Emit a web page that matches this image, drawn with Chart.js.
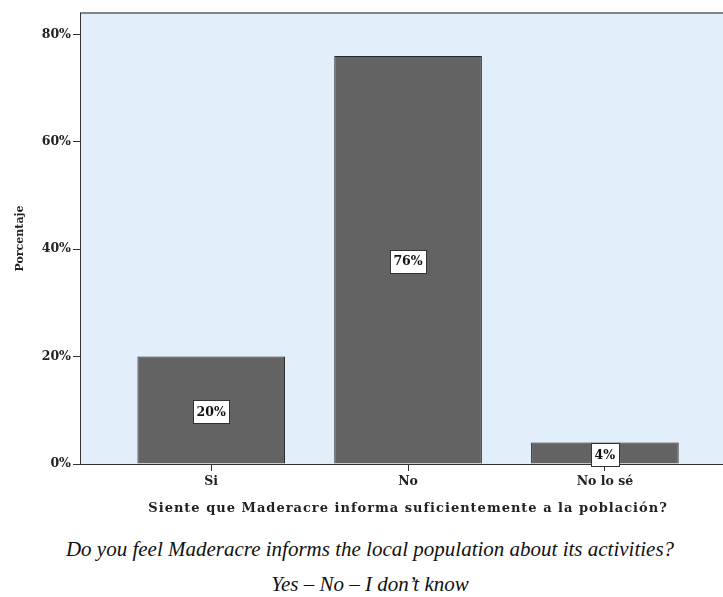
<!DOCTYPE html>
<html>
<head>
<meta charset="utf-8">
<script src="https://cdn.jsdelivr.net/npm/chart.js@4"></script>
<style>
  html, body { margin: 0; padding: 0; background: #fff; overflow: hidden; }
  #wrap { position: relative; width: 723px; height: 597px; }
  #caption {
    position: absolute; left: 17px; width: 706px; top: 532px;
    text-align: center; color: #111;
    font-family: "Liberation Serif", serif; font-style: italic;
    font-size: 21px; line-height: 35px;
  }
</style>
</head>
<body>
<div id="wrap">
  <canvas id="chart" width="723" height="530"></canvas>
  <div id="caption">Do you feel Maderacre informs the local population about its activities?<br>Yes – No – I don’t know</div>
</div>
<script>
const categories = ['Si', 'No', 'No lo sé'];
const percentages = [20, 76, 4];
const yTicks = [0, 20, 40, 60, 80];
const xTitle = 'Siente que Maderacre informa suficientemente a la población?';
const yTitle = 'Porcentaje';

const serif = '"DejaVu Serif", serif';
const ink = '#222';

// light blue plot area with a grey top edge
const plotBackground = {
  id: 'plotBackground',
  beforeDraw(chart) {
    const { ctx, chartArea: a } = chart;
    ctx.save();
    ctx.fillStyle = '#e2eefa';
    ctx.fillRect(a.left, a.top, a.right - a.left, a.bottom - a.top);
    ctx.strokeStyle = '#858585';
    ctx.lineWidth = 2;
    ctx.beginPath();
    ctx.moveTo(a.left, a.top);
    ctx.lineTo(a.right, a.top);
    ctx.stroke();
    ctx.restore();
  }
};

// x axis title, centred under the middle category
const axisTitle = {
  id: 'axisTitle',
  afterDraw(chart) {
    const { ctx } = chart;
    const x = chart.scales.x;
    ctx.save();
    ctx.font = 'bold 13px ' + serif;
    ctx.letterSpacing = '1px';
    ctx.fillStyle = ink;
    ctx.textAlign = 'center';
    ctx.textBaseline = 'middle';
    ctx.fillText(xTitle, x.getPixelForValue(2), x.bottom - 21);
    ctx.restore();
  }
};

// boxed value labels in the middle of each bar
const barLabels = {
  id: 'barLabels',
  afterDraw(chart) {
    const { ctx } = chart;
    const meta = chart.getDatasetMeta(0);
    ctx.save();
    ctx.font = 'bold 12.5px ' + serif;
    ctx.textAlign = 'center';
    ctx.textBaseline = 'middle';
    meta.data.forEach((bar, i) => {
      const text = percentages[i] + '%';
      const w = Math.round(ctx.measureText(text).width + 7);
      const h = 23;
      const cx = bar.x;
      const cy = (bar.y + bar.base) / 2 + 1.5;
      const left = Math.round(cx - w / 2);
      const top = Math.round(cy - h / 2);
      ctx.fillStyle = '#fff';
      ctx.fillRect(left, top, w, h);
      ctx.strokeStyle = '#333';
      ctx.lineWidth = 1;
      ctx.strokeRect(left + 0.5, top + 0.5, w, h);
      ctx.fillStyle = '#111';
      ctx.fillText(text, cx, cy + 1);
    });
    ctx.restore();
  }
};

new Chart(document.getElementById('chart'), {
  type: 'bar',
  data: {
    datasets: [{
      data: categories.map((c, i) => ({ x: i + 1, y: percentages[i] })),
      backgroundColor: '#636363',
      borderColor: '#262626',
      borderWidth: 1,
      barPercentage: 0.75,
      categoryPercentage: 1
    }]
  },
  options: {
    responsive: false,
    animation: false,
    layout: { padding: { top: 13, left: 0, right: 0, bottom: 0 } },
    plugins: { legend: { display: false }, tooltip: { enabled: false } },
    scales: {
      x: {
        type: 'linear',
        min: 1 / 3,
        max: 3.6,
        offset: false,
        afterBuildTicks: s => { s.ticks = categories.map((c, i) => ({ value: i + 1 })); },
        afterFit: s => { s.height = 66; },
        grid: { offset: false, drawOnChartArea: false, drawTicks: true, tickLength: 7, tickColor: '#333' },
        border: { display: true, color: '#333', width: 1 },
        ticks: {
          padding: 3,
          color: ink,
          font: { family: serif, size: 12.5, weight: 'bold' },
          callback: v => categories[v - 1]
        }
      },
      y: {
        min: 0,
        max: 84,
        afterBuildTicks: s => { s.ticks = yTicks.map(v => ({ value: v })); },
        afterFit: s => { s.width = 80; },
        grid: { drawOnChartArea: false, drawTicks: true, tickLength: 7, tickColor: '#333' },
        border: { display: true, color: '#333', width: 1 },
        ticks: {
          padding: 2,
          color: ink,
          font: { family: serif, size: 12.5, weight: 'bold' },
          callback: v => v + '%'
        },
        title: {
          display: true,
          text: yTitle,
          color: ink,
          padding: { top: 14, bottom: 0 },
          font: { family: serif, size: 11, weight: 'bold' }
        }
      }
    }
  },
  plugins: [plotBackground, axisTitle, barLabels]
});
</script>
</body>
</html>
